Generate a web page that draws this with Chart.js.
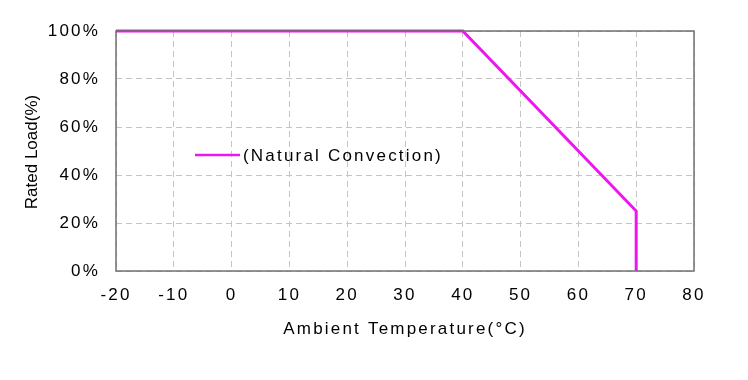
<!DOCTYPE html>
<html>
<head>
<meta charset="utf-8">
<script src="https://cdn.jsdelivr.net/npm/chart.js@4/dist/chart.umd.min.js"></script>
<style>
  html, body { margin: 0; padding: 0; background: #fff; }
  #wrap { width: 748px; height: 380px; }
</style>
</head>
<body>
<div id="wrap"><canvas id="derating"></canvas></div>
<script>
// derating curve
const ambientTemp = [-20, 40, 70, 70];
const ratedLoad = [100, 100, 25, 0];
const seriesLabel = '(Natural Convection)';
const xTitle = 'Ambient Temperature(\u00B0C)';
const yTitle = 'Rated Load(%)';

const lineColor = '#ee16ee';
const fontFamily = '"Liberation Sans", Arial, sans-serif';

// wide glyphs like the datasheet picture
const spacing = {
  id: 'spacing',
  beforeDraw(chart) { chart.ctx.letterSpacing = '2.2px'; }
};

// box round the plot, in-plot legend, y title (not spaced)
const frame = {
  id: 'frame',
  afterDatasetsDraw(chart) {
    const { ctx, chartArea: a } = chart;
    ctx.save();
    ctx.strokeStyle = '#707070';
    ctx.lineWidth = 1.5;
    ctx.strokeRect(a.left, a.top, a.right - a.left, a.bottom - a.top);
    ctx.restore();
  },
  afterDraw(chart) {
    const { ctx, chartArea: a } = chart;
    ctx.save();
    ctx.strokeStyle = lineColor;
    ctx.lineWidth = 2.5;
    ctx.beginPath();
    ctx.moveTo(195, 155);
    ctx.lineTo(240, 155);
    ctx.stroke();
    ctx.fillStyle = '#000';
    ctx.font = '17px ' + fontFamily;
    ctx.letterSpacing = '2.2px';
    ctx.textBaseline = 'middle';
    ctx.fillText(seriesLabel, 243, 156);
    ctx.restore();

    ctx.save();
    ctx.letterSpacing = '0px';
    ctx.font = '17px ' + fontFamily;
    ctx.fillStyle = '#000';
    ctx.textAlign = 'center';
    ctx.textBaseline = 'middle';
    ctx.translate(32, (a.top + a.bottom) / 2 + 1);
    ctx.rotate(-Math.PI / 2);
    ctx.fillText(yTitle, 0, 0);
    ctx.restore();
  }
};

new Chart(document.getElementById('derating'), {
  type: 'scatter',
  data: {
    datasets: [{
      label: seriesLabel,
      data: ambientTemp.map((t, i) => ({ x: t, y: ratedLoad[i] })),
      showLine: true,
      borderColor: lineColor,
      backgroundColor: lineColor,
      borderWidth: 3,
      pointRadius: 0,
      clip: false
    }]
  },
  options: {
    responsive: true,
    maintainAspectRatio: false,
    animation: false,
    layout: { padding: { top: 31, right: 54, bottom: 0, left: 0 } },
    plugins: {
      legend: { display: false },
      tooltip: { enabled: false }
    },
    scales: {
      x: {
        type: 'linear',
        min: -20,
        max: 80,
        afterFit(scale) { scale.height = 109; },
        ticks: {
          stepSize: 10,
          padding: 14,
          color: '#000',
          font: { family: fontFamily, size: 17 }
        },
        grid: { color: '#c4c4c4', lineWidth: 1, drawTicks: false },
        border: { display: false, dash: [6, 4] },
        title: {
          display: true,
          text: xTitle,
          color: '#000',
          font: { family: fontFamily, size: 17 },
          padding: { top: 0, bottom: 40 }
        }
      },
      y: {
        min: 0,
        max: 100,
        afterFit(scale) { scale.width = 116; },
        ticks: {
          stepSize: 20,
          padding: 16,
          color: '#000',
          font: { family: fontFamily, size: 17 },
          callback: v => v + '%'
        },
        grid: { color: '#c4c4c4', lineWidth: 1, drawTicks: false },
        border: { display: false, dash: [6, 4] }
      }
    }
  },
  plugins: [spacing, frame]
});
</script>
</body>
</html>
